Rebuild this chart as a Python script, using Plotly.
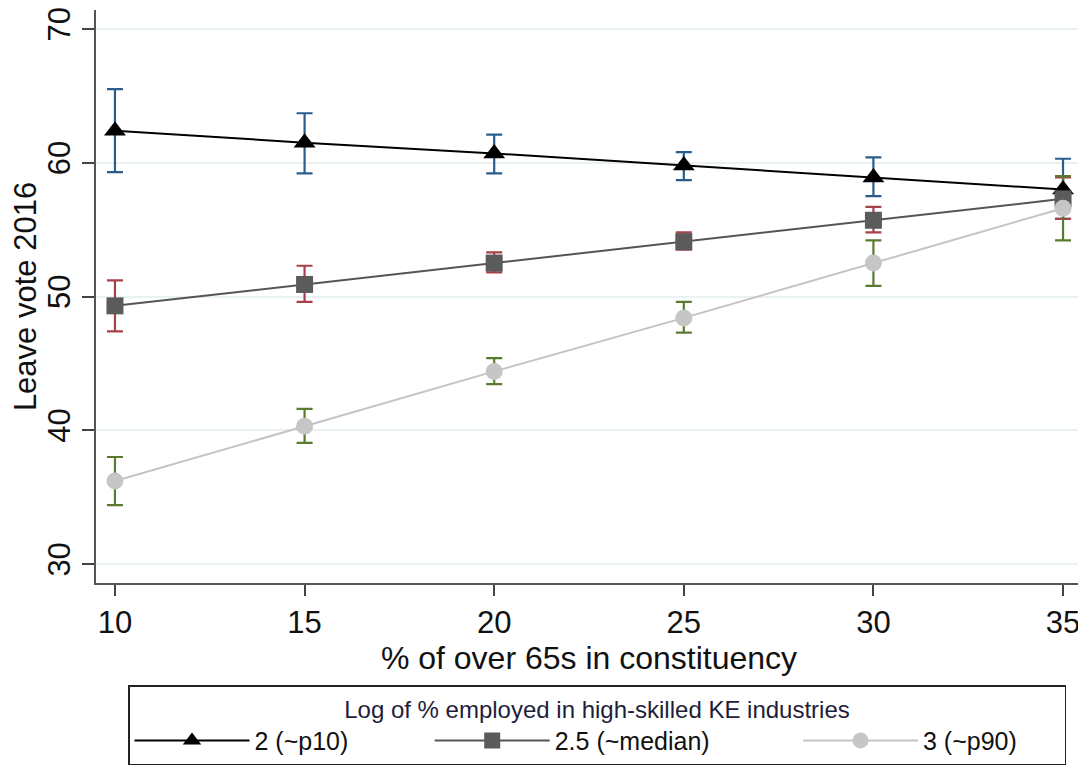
import numpy as np
import plotly.graph_objects as go

# ---- data ----
x_over65 = [10, 15, 20, 25, 30, 35]

p10 = [62.4, 61.5, 60.7, 59.8, 58.9, 58.0]
p10_lo = [59.3, 59.2, 59.2, 58.7, 57.5, 55.8]
p10_hi = [65.5, 63.7, 62.1, 60.8, 60.4, 60.3]

med = [49.3, 50.9, 52.5, 54.1, 55.7, 57.3]
med_lo = [47.4, 49.6, 51.8, 53.5, 54.8, 55.8]
med_hi = [51.2, 52.3, 53.3, 54.8, 56.7, 58.9]

p90 = [36.2, 40.3, 44.4, 48.4, 52.5, 56.6]
p90_lo = [34.4, 39.05, 43.45, 47.3, 50.8, 54.2]
p90_hi = [38.0, 41.6, 45.4, 49.6, 54.2, 59.0]

names = ["2 (~p10)", "2.5 (~median)", "3 (~p90)"]
legend_title = "Log of % employed in high-skilled KE industries"
x_title = "% of over 65s in constituency"
y_title = "Leave vote 2016"
x_ticks = [10, 15, 20, 25, 30, 35]
y_ticks = [30, 40, 50, 60, 70]

FONT = "Liberation Sans, Arial, sans-serif"
NBSP = "\u00a0"
name_pad = [11, 12, 6]   # trailing spacing between legend entries

# the page body has an 8px default margin: size the figure to fit the window
W, H = 1078, 770

series = [
    (p10, p10_lo, p10_hi, "#2b5d8c", "black", "black", "triangle-up", 19),
    (med, med_lo, med_hi, "#a8404a", "#555555", "#5b5b5b", "square", 17),
    (p90, p90_lo, p90_hi, "#5a7a30", "#c4c4c4", "#c6c6c6", "circle", 17),
]

fig = go.Figure()

# confidence-interval caps first (drawn beneath the lines)
for (y, lo, hi, ccol, lcol, mcol, sym, ms) in series:
    y_a = np.array(y)
    fig.add_trace(go.Scatter(
        x=x_over65, y=y, mode="markers",
        marker=dict(size=1, color="rgba(0,0,0,0)"),
        error_y=dict(type="data", symmetric=False,
                     array=(np.array(hi) - y_a).tolist(),
                     arrayminus=(y_a - np.array(lo)).tolist(),
                     color=ccol, thickness=2.2, width=8),
        showlegend=False, hoverinfo="skip",
    ))

for (y, lo, hi, ccol, lcol, mcol, sym, ms), nm, pad in zip(series, names, name_pad):
    fig.add_trace(go.Scatter(
        x=x_over65, y=y, mode="lines+markers", name=nm + NBSP * pad,
        line=dict(color=lcol, width=2),
        marker=dict(symbol=sym, size=ms, color=mcol),
    ))

ml, mt, pw, ph = 88, 2, 986, 573
fig.update_layout(
    width=W, height=H,
    margin=dict(l=ml, r=W - ml - pw, t=mt, b=H - mt - ph, autoexpand=False),
    paper_bgcolor="white", plot_bgcolor="white",
    font=dict(family=FONT, color="#111111"),
    showlegend=True,
    legend=dict(
        orientation="h",
        x=32 / pw, xanchor="left",
        y=-102 / ph, yanchor="top",
        bordercolor="#222222", borderwidth=1.5,
        bgcolor="white",
        itemwidth=115,
        font=dict(family=FONT, size=25, color="#111111"),
        title=dict(text=legend_title, side="top center",
                   font=dict(family=FONT, size=24, color="#1e1e3a")),
        traceorder="normal",
    ),
    xaxis=dict(
        range=[9.5, 35.5], tickmode="array", tickvals=x_ticks,
        ticks="outside", ticklen=11, tickwidth=1.5, tickcolor="#444444",
        showline=True, linecolor="#555555", linewidth=2,
        showgrid=False, zeroline=False, ticklabeloverflow="allow",
        tickfont=dict(family=FONT, size=31, color="#111111"),
        title=dict(text=x_title, font=dict(family=FONT, size=32, color="#111111"), standoff=0),
    ),
    yaxis=dict(
        range=[28.58, 71.42], tickmode="array", tickvals=y_ticks,
        ticks="outside", ticklen=12, tickwidth=1.5, tickcolor="#444444",
        showline=True, linecolor="#555555", linewidth=2,
        showgrid=True, gridcolor="#e9f1f3", gridwidth=2,
        zeroline=False, tickangle=-90, ticklabeloverflow="allow",
        tickfont=dict(family=FONT, size=31, color="#111111"),
        title=dict(text=y_title, font=dict(family=FONT, size=31, color="#111111"), standoff=0),
    ),
)

fig.write_html("out.html")
